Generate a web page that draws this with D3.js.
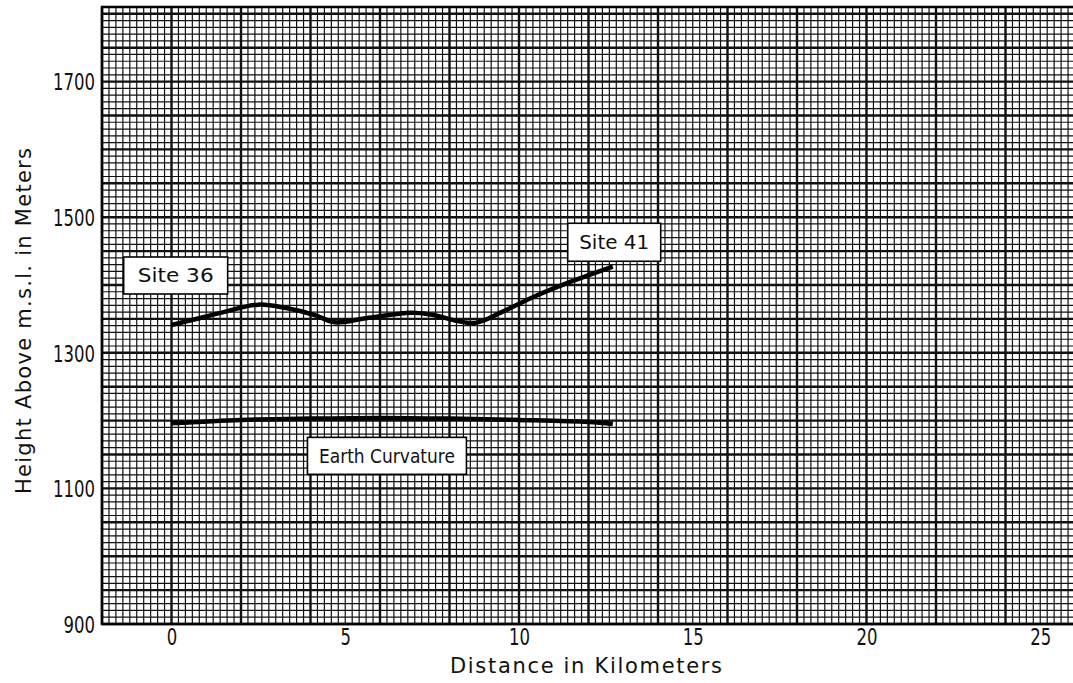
<!DOCTYPE html>
<html>
<head>
<meta charset="utf-8">
<script src="https://cdn.jsdelivr.net/npm/d3@7"></script>
<style>
  body { margin: 0; background: #fff; }
  svg { display: block; }
</style>
</head>
<body>
<div id="chart"></div>
<script>
// profile between the two sites
const profileKm = [0, 0.8, 1.5, 2.5, 3.3, 4.1, 4.7, 5.6, 6.9, 7.5, 8.7, 9.5, 10.4, 11.4, 12.7];
const profileM  = [1341, 1351, 1360, 1371, 1366, 1356, 1345, 1351, 1359, 1356, 1344, 1360, 1382, 1403, 1427];

// earth curvature reference line
const curveKm = [0, 2, 4, 6, 8, 10, 12, 12.7];
const curveM  = [1196, 1201, 1203, 1204, 1203, 1201, 1198, 1195];

const xTicks = [0, 5, 10, 15, 20, 25];
const yTicks = [900, 1100, 1300, 1500, 1700];

const labelText = ["Site 36", "Site 41", "Earth Curvature"];
const labelKm   = [0.12, 12.74, 6.2];
const labelM    = [1414, 1463, 1148];

const W = 1073, H = 683;
const m = { left: 102, top: 7, bottom: 624, right: 1075 };

const svg = d3.select("#chart").append("svg")
  .attr("width", W)
  .attr("height", H);

const x = d3.scaleLinear().domain([-2, 26]).range([m.left, m.right]);
const y = d3.scaleLinear().domain([900, 1810]).range([m.bottom, m.top]);

// graph paper
const grid = svg.append("g");
const minorX = d3.range(0, 141).map(i => -2 + i * 0.2);
const minorY = d3.range(0, 92).map(i => 900 + i * 10);

grid.selectAll(".vx")
  .data(minorX)
  .enter().append("line")
  .attr("x1", d => x(d)).attr("x2", d => x(d))
  .attr("y1", m.top).attr("y2", m.bottom)
  .attr("stroke", "#111")
  .attr("stroke-width", (d, i) => i % 10 === 0 ? 2.4 : 1.2);

grid.selectAll(".hy")
  .data(minorY)
  .enter().append("line")
  .attr("y1", d => y(d)).attr("y2", d => y(d))
  .attr("x1", m.left).attr("x2", m.right)
  .attr("stroke", "#111")
  .attr("stroke-width", (d, i) => i % 5 === 0 ? 2.4 : 1.2);

// frame
svg.append("rect")
  .attr("x", m.left).attr("y", m.top)
  .attr("width", m.right - m.left).attr("height", m.bottom - m.top)
  .attr("fill", "none")
  .attr("stroke", "#000")
  .attr("stroke-width", 2.5);

// lines
const line = d3.line()
  .x(d => x(d[0]))
  .y(d => y(d[1]))
  .curve(d3.curveCatmullRom);

svg.append("path")
  .datum(profileKm.map((k, i) => [k, profileM[i]]))
  .attr("fill", "none")
  .attr("stroke", "#000")
  .attr("stroke-width", 4.5)
  .attr("d", line);

svg.append("path")
  .datum(curveKm.map((k, i) => [k, curveM[i]]))
  .attr("fill", "none")
  .attr("stroke", "#000")
  .attr("stroke-width", 4.5)
  .attr("d", line);

// labels in boxes
const boxW = [104, 93, 159];
const boxH = [37, 38, 37];
const textW = [76, 70, 136];
const labels = svg.selectAll(".lab")
  .data(labelText)
  .enter().append("g")
  .attr("transform", (d, i) => `translate(${x(labelKm[i])},${y(labelM[i])})`);

labels.append("rect")
  .attr("x", (d, i) => -boxW[i] / 2)
  .attr("y", (d, i) => -boxH[i] / 2)
  .attr("width", (d, i) => boxW[i])
  .attr("height", (d, i) => boxH[i])
  .attr("fill", "#fff")
  .attr("stroke", "#000")
  .attr("stroke-width", 1.6);

labels.append("text")
  .attr("text-anchor", "middle")
  .attr("dy", "0.36em")
  .attr("font-family", "DejaVu Sans")
  .attr("font-size", 19)
  .attr("fill", "#111")
  .attr("textLength", (d, i) => textW[i])
  .attr("lengthAdjust", "spacingAndGlyphs")
  .text(d => d);

// axes
const fmt = d3.format("d");
const yAxis = svg.append("g")
  .attr("transform", `translate(${m.left},0)`)
  .call(d3.axisLeft(y).tickValues(yTicks).tickFormat(fmt).tickSize(0).tickPadding(7));
yAxis.select(".domain").remove();
yAxis.selectAll("text")
  .attr("font-family", "DejaVu Sans Condensed, DejaVu Sans")
  .attr("font-size", 23)
  .attr("fill", "#111")
  .attr("dy", "0.36em")
  .attr("textLength", d => String(d).length * 10.5)
  .attr("lengthAdjust", "spacingAndGlyphs");

const xAxis = svg.append("g")
  .attr("transform", `translate(0,${m.bottom})`)
  .call(d3.axisBottom(x).tickValues(xTicks).tickFormat(fmt).tickSize(0).tickPadding(5));
xAxis.select(".domain").remove();
xAxis.selectAll("text")
  .attr("font-family", "DejaVu Sans Condensed, DejaVu Sans")
  .attr("font-size", 23)
  .attr("fill", "#111")
  .attr("dy", "0.71em")
  .attr("textLength", d => String(d).length * 10.5)
  .attr("lengthAdjust", "spacingAndGlyphs");

// axis titles
svg.append("text")
  .attr("x", 586).attr("y", 673)
  .attr("text-anchor", "middle")
  .attr("font-family", "DejaVu Sans")
  .attr("font-size", 21)
  .attr("fill", "#111")
  .attr("textLength", 272)
  .attr("lengthAdjust", "spacing")
  .text("Distance in Kilometers");

svg.append("text")
  .attr("transform", "translate(31,321) rotate(-90)")
  .attr("text-anchor", "middle")
  .attr("font-family", "DejaVu Sans")
  .attr("font-size", 21)
  .attr("fill", "#111")
  .attr("textLength", 346)
  .attr("lengthAdjust", "spacing")
  .text("Height Above m.s.l. in Meters");
</script>
</body>
</html>
